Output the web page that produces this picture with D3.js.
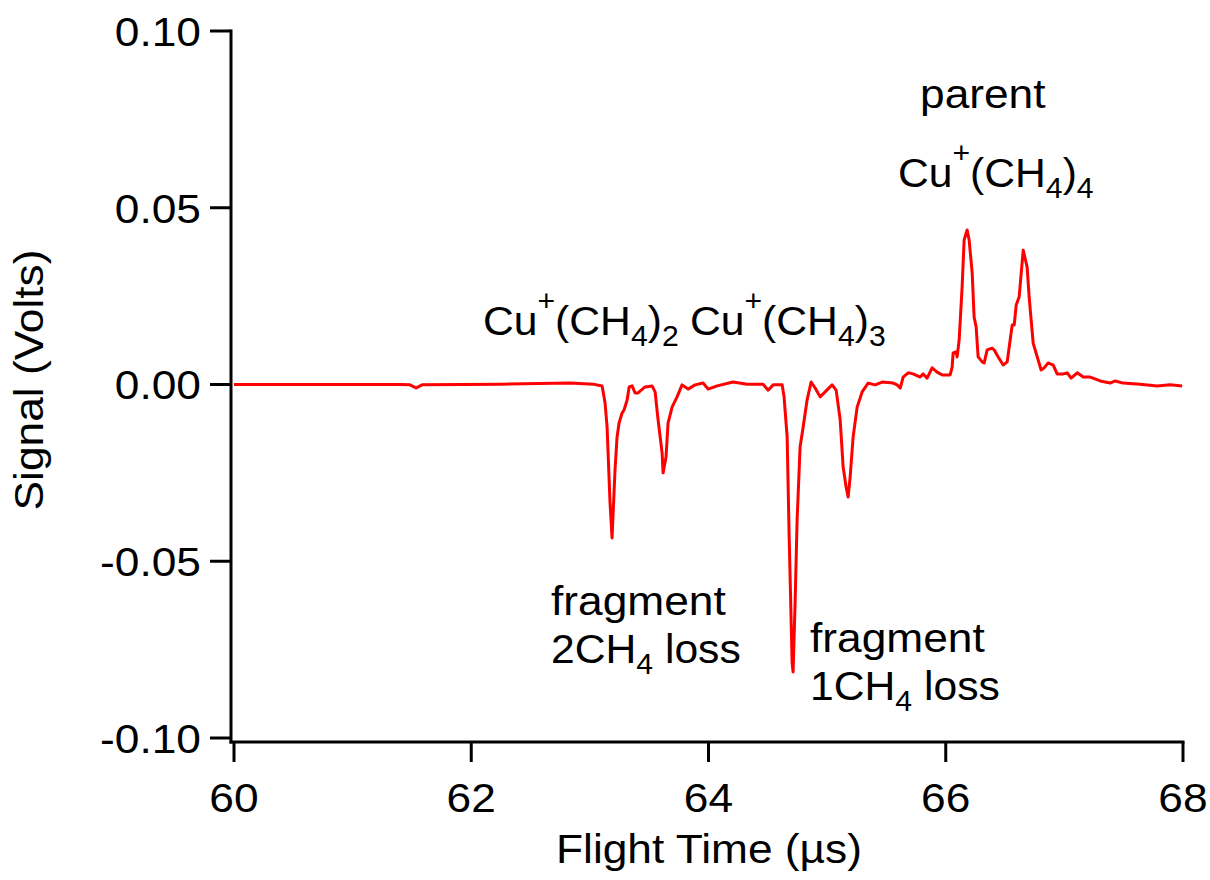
<!DOCTYPE html>
<html>
<head>
<meta charset="utf-8">
<script src="https://cdn.jsdelivr.net/npm/d3@7"></script>
<style>
  html, body { margin: 0; padding: 0; background: #fff; }
  svg text { font-family: "Liberation Sans", Arial, sans-serif; fill: #000; }
</style>
</head>
<body>
<svg id="chart" width="1210" height="880"></svg>
<script>
// ---- data ----
const flightTime = [
  60.000, 60.557, 61.400, 61.484, 61.535, 61.585, 62.243, 62.833, 63.027, 63.103,
  63.128, 63.145, 63.170, 63.187, 63.212, 63.229, 63.246, 63.271, 63.288, 63.314,
  63.331, 63.356, 63.381, 63.406, 63.465, 63.524, 63.550, 63.575, 63.609, 63.617,
  63.642, 63.659, 63.693, 63.735, 63.777, 63.828, 63.887, 63.954, 63.997, 64.073,
  64.207, 64.325, 64.460, 64.503, 64.545, 64.621, 64.637, 64.663, 64.680, 64.705,
  64.713, 64.730, 64.747, 64.772, 64.798, 64.831, 64.865, 64.899, 64.941, 64.983,
  65.042, 65.076, 65.110, 65.135, 65.160, 65.177, 65.194, 65.219, 65.253, 65.295,
  65.346, 65.405, 65.464, 65.557, 65.590, 65.616, 65.641, 65.683, 65.725, 65.784,
  65.810, 65.843, 65.885, 65.927, 65.970, 66.037, 66.054, 66.062, 66.088, 66.096,
  66.113, 66.138, 66.155, 66.180, 66.197, 66.223, 66.239, 66.256, 66.273, 66.307,
  66.324, 66.349, 66.391, 66.408, 66.442, 66.484, 66.518, 66.543, 66.560, 66.577,
  66.594, 66.619, 66.653, 66.686, 66.703, 66.737, 66.771, 66.804, 66.830, 66.863,
  66.906, 66.939, 66.990, 67.024, 67.057, 67.108, 67.159, 67.218, 67.302, 67.386,
  67.428, 67.496, 67.639, 67.782, 67.892, 67.993
];
const signal = [
  0.0000, 0.0000, 0.0000, -0.0001, -0.0010, -0.0001, 0.0001, 0.0004, 0.0001, -0.0004,
  -0.0052, -0.0120, -0.0335, -0.0434, -0.0242, -0.0149, -0.0109, -0.0081, -0.0072, -0.0044,
  -0.0007, -0.0004, -0.0024, -0.0024, -0.0007, -0.0004, -0.0021, -0.0100, -0.0194, -0.0250,
  -0.0205, -0.0109, -0.0064, -0.0035, -0.0001, -0.0013, -0.0001, 0.0004, -0.0013, -0.0004,
  0.0007, 0.0001, 0.0001, -0.0016, -0.0001, -0.0001, -0.0035, -0.0149, -0.0431, -0.0788,
  -0.0813, -0.0618, -0.0383, -0.0177, -0.0120, -0.0044, 0.0007, -0.0010, -0.0035, -0.0021,
  -0.0001, -0.0016, -0.0100, -0.0233, -0.0290, -0.0318, -0.0262, -0.0149, -0.0064, -0.0021,
  0.0004, -0.0001, 0.0007, 0.0004, -0.0001, -0.0010, 0.0021, 0.0033, 0.0030, 0.0021,
  0.0030, 0.0018, 0.0047, 0.0035, 0.0027, 0.0027, 0.0049, 0.0089, 0.0092, 0.0078,
  0.0126, 0.0276, 0.0409, 0.0437, 0.0409, 0.0315, 0.0191, 0.0163, 0.0078, 0.0064,
  0.0061, 0.0098, 0.0103, 0.0098, 0.0078, 0.0055, 0.0064, 0.0126, 0.0168, 0.0168,
  0.0225, 0.0248, 0.0380, 0.0332, 0.0248, 0.0117, 0.0078, 0.0041, 0.0047, 0.0061,
  0.0055, 0.0030, 0.0030, 0.0033, 0.0018, 0.0033, 0.0021, 0.0021, 0.0010, 0.0004,
  0.0010, 0.0004, 0.0001, -0.0004, -0.0001, -0.0004
];
const xTicks = [60, 62, 64, 66, 68];
const xTickLabels = ["60", "62", "64", "66", "68"];
const yTicks = [0.10, 0.05, 0.00, -0.05, -0.10];
const yTickLabels = ["0.10", "0.05", "0.00", "-0.05", "-0.10"];
const xTitle = "Flight Time (\u00B5s)";
const yTitle = "Signal (Volts)";
// annotations: segments (sup/sub) anchored at data coordinates
const annotations = [
  { x: 65.783, y: 0.0782, segs: [{ t: "parent" }] },
  { x: 65.597, y: 0.0559, segs: [{ t: "Cu" }, { t: "+", sup: true }, { t: "(CH" }, { t: "4", sub: true }, { t: ")" }, { t: "4", sub: true }] },
  { x: 62.099, y: 0.0140, segs: [{ t: "Cu" }, { t: "+", sup: true }, { t: "(CH" }, { t: "4", sub: true }, { t: ")" }, { t: "2", sub: true }] },
  { x: 63.844, y: 0.0140, segs: [{ t: "Cu" }, { t: "+", sup: true }, { t: "(CH" }, { t: "4", sub: true }, { t: ")" }, { t: "3", sub: true }] },
  { x: 62.672, y: -0.0652, segs: [{ t: "fragment" }] },
  { x: 62.672, y: -0.0788, segs: [{ t: "2CH" }, { t: "4", sub: true }, { t: " loss" }] },
  { x: 64.856, y: -0.0757, segs: [{ t: "fragment" }] },
  { x: 64.856, y: -0.0893, segs: [{ t: "1CH" }, { t: "4", sub: true }, { t: " loss" }] }
];

// ---- layout ----
const svg = d3.select("#chart");
const x = d3.scaleLinear().domain([60, 68]).range([234, 1183]);
const y = d3.scaleLinear().domain([-0.10, 0.10]).range([738, 31]);
const axisX = 231, axisY = 742;
const FS = 41;

function stretch(sel, k = 1.08) {
  sel.each(function () {
    const len = this.getComputedTextLength();
    d3.select(this).attr("textLength", len * k).attr("lengthAdjust", "spacingAndGlyphs");
  });
}

// axis lines
svg.append("line").attr("x1", axisX).attr("x2", axisX)
  .attr("y1", y(0.10) - 1.5).attr("y2", axisY + 1.5)
  .attr("stroke", "#000").attr("stroke-width", 3);
svg.append("line").attr("x1", axisX - 1.5).attr("x2", x(68) + 1.5)
  .attr("y1", axisY).attr("y2", axisY)
  .attr("stroke", "#000").attr("stroke-width", 3);

// y ticks
const yg = svg.append("g");
yg.selectAll("line").data(yTicks).join("line")
  .attr("x1", axisX - 21).attr("x2", axisX)
  .attr("y1", d => y(d)).attr("y2", d => y(d))
  .attr("stroke", "#000").attr("stroke-width", 3);
yg.selectAll("text").data(yTicks).join("text")
  .attr("x", 201).attr("y", d => y(d)).attr("dy", "0.36em")
  .attr("text-anchor", "end").attr("font-size", FS)
  .text((d, i) => yTickLabels[i]).call(stretch);

// x ticks
const xg = svg.append("g");
xg.selectAll("line").data(xTicks).join("line")
  .attr("x1", d => x(d)).attr("x2", d => x(d))
  .attr("y1", axisY).attr("y2", axisY + 20)
  .attr("stroke", "#000").attr("stroke-width", 3);
xg.selectAll("text").data(xTicks).join("text")
  .attr("x", d => x(d)).attr("y", 812)
  .attr("text-anchor", "middle").attr("font-size", FS)
  .text((d, i) => xTickLabels[i]).call(stretch);

// axis titles
svg.append("text").attr("x", 709).attr("y", 863)
  .attr("text-anchor", "middle").attr("font-size", FS).text(xTitle).call(stretch);
svg.append("text")
  .attr("transform", `translate(43, ${380}) rotate(-90)`)
  .attr("text-anchor", "middle").attr("font-size", FS).text(yTitle).call(stretch);

// curve
const line = d3.line().x((d, i) => x(flightTime[i])).y(d => y(d));
svg.append("path").datum(signal)
  .attr("d", line)
  .attr("fill", "none").attr("stroke", "#ff0000")
  .attr("stroke-width", 3).attr("stroke-linejoin", "round");

// annotations
annotations.forEach(a => {
  const t = svg.append("text").attr("x", x(a.x)).attr("y", y(a.y)).attr("font-size", FS);
  let shift = 0, hasScript = false;
  a.segs.forEach(s => {
    let target = s.sup ? -24 : s.sub ? 11 : 0;
    const ts = t.append("tspan").text(s.t).attr("dy", target - shift);
    if (s.sup || s.sub) { ts.attr("font-size", 29); hasScript = true; }
    shift = target;
  });
  t.call(stretch, hasScript ? 1.04 : 1.08);
});
</script>
</body>
</html>
